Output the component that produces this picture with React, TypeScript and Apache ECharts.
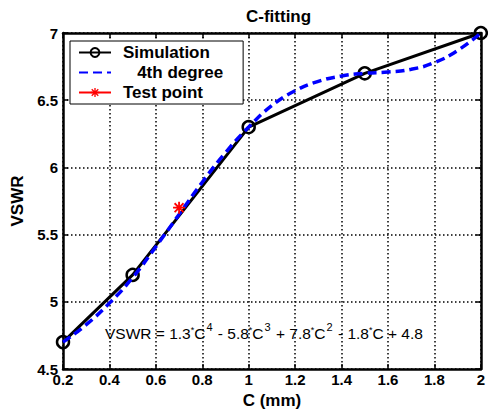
import React, { useEffect, useRef } from "react";
import * as echarts from "echarts";

const simC = [0.2, 0.5, 1.0, 1.5, 2.0];
const simV = [4.7, 5.2, 6.3, 6.7, 7.0];
const fitC = [0.2, 0.3, 0.4, 0.5, 0.6, 0.7, 0.8, 0.9, 1.0, 1.1, 1.2, 1.3, 1.4, 1.5, 1.6, 1.7, 1.8, 1.9, 2.0];
const fitV = [4.7, 4.83, 4.99, 5.18, 5.41, 5.65, 5.89, 6.11, 6.3, 6.46, 6.57, 6.64, 6.68, 6.7, 6.71, 6.73, 6.78, 6.87, 7.0];
const testC = [0.7];
const testV = [5.7];

const FONT = "'Liberation Sans', Arial, Helvetica, sans-serif";
const STAR =
  "path://M8.5,0 L11.5,0 L11.5,20 L8.5,20 Z M0,8.5 L20,8.5 L20,11.5 L0,11.5 Z M1.5,3.6 L3.6,1.5 L18.5,16.4 L16.4,18.5 Z M16.4,1.5 L18.5,3.6 L3.6,18.5 L1.5,16.4 Z";

export default function App() {
  const ref = useRef<HTMLDivElement>(null);
  useEffect(() => {
    if (!ref.current) return;
    const chart = echarts.init(ref.current, null, { renderer: "svg" });
    const tickStyle = { inside: true, length: 5, lineStyle: { color: "#000", width: 1.5 } };
    const axisLine = { show: true, onZero: false, lineStyle: { color: "#000", width: 2.5 } };
    const split = { show: true, lineStyle: { color: "#000", type: [1.5, 2.5], width: 1.5 } };
    chart.setOption({
      animation: false,
      backgroundColor: "#fff",
      title: {
        text: "C-fitting",
        left: 241,
        top: 3,
        textStyle: { fontFamily: FONT, fontSize: 17, fontWeight: "bold", color: "#000" },
      },
      grid: { left: 63, right: 2, top: 33, bottom: 48 },
      legend: {
        orient: "vertical",
        left: 70,
        top: 41,
        backgroundColor: "#fff",
        borderColor: "#000",
        borderWidth: 1,
        borderRadius: 0,
        padding: [3, 20, 3, 8],
        itemWidth: 32,
        itemHeight: 11,
        itemGap: 3,
        data: [
          { name: "Simulation" },
          { name: "4th degree", itemStyle: { opacity: 0 } },
          { name: "Test point" },
        ],
        formatter: (n: string) => (n === "4th degree" ? "\u00a0\u00a0\u00a0" + n : n),
        textStyle: { fontFamily: FONT, fontSize: 17, fontWeight: "bold", color: "#000", padding: [0, 0, 0, 7] },
      },
      xAxis: [
        {
          type: "value",
          min: 0.2,
          max: 2,
          interval: 0.2,
          name: "C (mm)",
          nameLocation: "middle",
          nameGap: 20,
          nameTextStyle: { fontFamily: FONT, fontSize: 17, fontWeight: "bold", color: "#000", verticalAlign: "top" },
          axisLine,
          axisTick: tickStyle,
          axisLabel: { fontFamily: FONT, fontSize: 15, fontWeight: "bold", color: "#000", margin: 3 },
          splitLine: split,
        },
        {
          type: "value",
          position: "top",
          min: 0.2,
          max: 2,
          interval: 0.2,
          axisLine,
          axisTick: tickStyle,
          axisLabel: { show: false },
          splitLine: { show: false },
        },
      ],
      yAxis: [
        {
          type: "value",
          min: 4.5,
          max: 7,
          interval: 0.5,
          name: "VSWR",
          nameLocation: "middle",
          nameGap: 36,
          nameTextStyle: { fontFamily: FONT, fontSize: 17, fontWeight: "bold", color: "#000" },
          axisLine,
          axisTick: tickStyle,
          axisLabel: { fontFamily: FONT, fontSize: 15, fontWeight: "bold", color: "#000", margin: 5 },
          splitLine: split,
        },
        {
          type: "value",
          position: "right",
          min: 4.5,
          max: 7,
          interval: 0.5,
          axisLine,
          axisTick: tickStyle,
          axisLabel: { show: false },
          splitLine: { show: false },
        },
      ],
      series: [
        {
          name: "Simulation",
          type: "line",
          data: simC.map((c, i) => [c, simV[i]]),
          symbol: "circle",
          symbolSize: 12,
          clip: false,
          lineStyle: { color: "#000", width: 3 },
          itemStyle: { color: "rgba(255,255,255,0)", borderColor: "#000", borderWidth: 2.5 },
          z: 2,
        },
        {
          name: "4th degree",
          type: "line",
          data: fitC.map((c, i) => [c, fitV[i]]),
          smooth: true,
          symbol: "none",
          lineStyle: { color: "#0000ff", width: 3.5, type: [9, 5] },
          itemStyle: { color: "#0000ff" },
          z: 3,
        },
        {
          name: "Test point",
          type: "line",
          data: testC.map((c, i) => [c, testV[i]]),
          symbol: STAR,
          symbolSize: 12,
          lineStyle: { color: "#ff0000", width: 3.5 },
          itemStyle: { color: "#ff0000" },
          z: 4,
        },
      ],
      graphic: [
        {
          type: "text",
          left: 105,
          top: 321,
          z: 10,
          style: {
            text:
              "{n|VSWR = 1.3}{a|*}{n|C}{s|4}{n| - 5.8}{a|*}{n|C}{s|3}{n| + 7.8}{a|*}{n|C}{s|2}{n| - 1.8}{a|*}{n|C + 4.8}",
            rich: {
              n: { fontFamily: FONT, fontSize: 15.5, color: "#000", lineHeight: 20, verticalAlign: "bottom" },
              s: { fontFamily: FONT, fontSize: 11, color: "#000", lineHeight: 20, verticalAlign: "top", padding: [0, 1, 0, 1] },
              a: { fontFamily: FONT, fontSize: 9, color: "#000", lineHeight: 20, verticalAlign: "top", padding: [4, 0, 0, 0] },
            },
          },
        },
      ],
    });
    return () => chart.dispose();
  }, []);
  return <div ref={ref} style={{ position: "fixed", left: 0, top: 0, width: 488, height: 417 }} />;
}
